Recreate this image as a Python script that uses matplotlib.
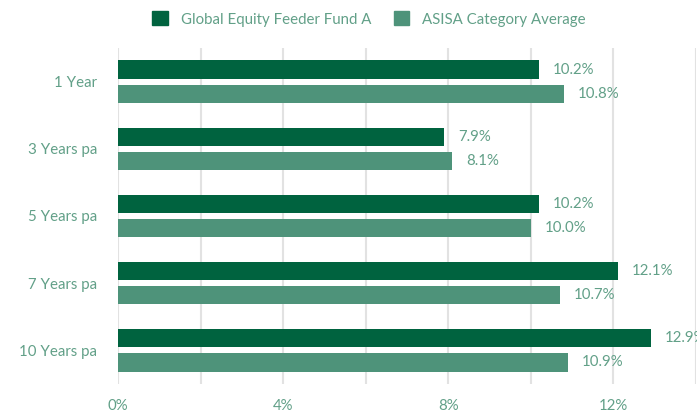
import matplotlib
matplotlib.use("Agg")
import matplotlib.pyplot as plt
from matplotlib.patches import Patch
import numpy as np

categories = ["1 Year", "3 Years pa", "5 Years pa", "7 Years pa", "10 Years pa"]
fund = [10.2, 7.9, 10.2, 12.1, 12.9]
category_avg = [10.8, 8.1, 10.0, 10.7, 10.9]
series_names = ["Global Equity Feeder Fund A", "ASISA Category Average"]
xtick_labels = ["0%", "", "4%", "", "8%", "", "12%", ""]

DARK = "#00633f"
LIGHT = "#4e937a"
TEXT = "#62a088"
GRID = "#e2e2e2"
FS = 10.8

plt.rcParams["font.family"] = ["Lato", "DejaVu Sans"]

W, H = 697, 413
fig = plt.figure(figsize=(W / 100, H / 100), dpi=100)
ax = fig.add_axes([118 / W, 1 - 384 / H, (696 - 118) / W, 336 / H])

y = np.arange(len(categories))
off, h = 0.18, 0.27
ax.barh(y - off, fund, height=h, color=DARK)
ax.barh(y + off, category_avg, height=h, color=LIGHT)

# value labels right of each bar
for ys, vals in ((y - off, fund), (y + off, category_avg)):
    for yy, v in zip(ys, vals):
        ax.annotate(f"{v:.1f}%", (v, yy), xytext=(10, 0), textcoords="offset points",
                    va="center", ha="left", fontsize=FS, color=TEXT,
                    annotation_clip=False)

ax.set_xlim(0, 14)
ax.set_ylim(4.5, -0.5)
ax.set_xticks(np.arange(0, 15, 2))
ax.set_xticklabels(xtick_labels)
ax.set_yticks(y)
ax.set_yticklabels(categories)
ax.tick_params(axis="x", length=0, pad=11, labelsize=FS, labelcolor=TEXT)
ax.tick_params(axis="y", length=0, pad=15, labelsize=FS, labelcolor=TEXT)
ax.grid(axis="x", color=GRID, lw=1.5)
ax.set_axisbelow(True)
for s in ax.spines.values():
    s.set_visible(False)

handles = [Patch(color=DARK), Patch(color=LIGHT)]
fig.legend(handles, series_names, loc="center", bbox_to_anchor=(369 / W, 1 - 19 / H),
           ncol=2, frameon=False, fontsize=FS, handlelength=1.05, handleheight=1.05,
           handletextpad=0.85, columnspacing=1.5, labelcolor=TEXT)

fig.savefig("out.png", dpi=100)
